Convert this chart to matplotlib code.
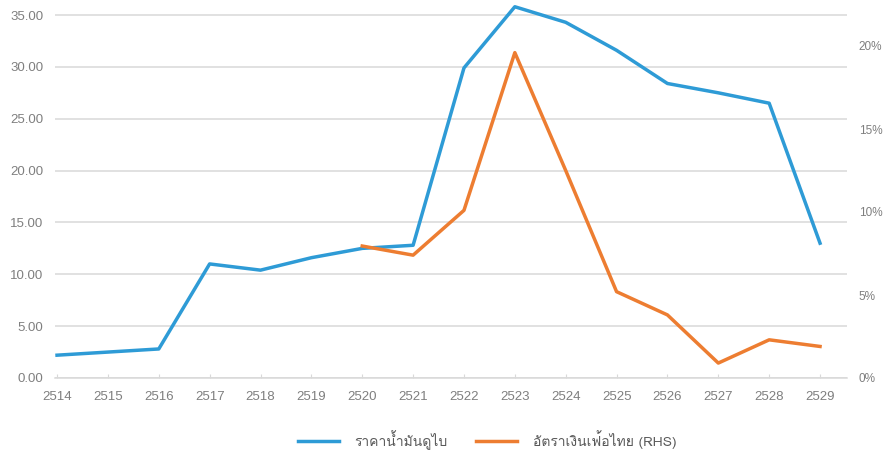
import matplotlib
matplotlib.use("Agg")
import matplotlib.pyplot as plt
from matplotlib import font_manager
from matplotlib.ft2font import FT2Font
from matplotlib.ticker import FuncFormatter

# data
years = [2514, 2515, 2516, 2517, 2518, 2519, 2520, 2521, 2522, 2523, 2524, 2525, 2526, 2527, 2528, 2529]
oil_price = [2.2, 2.5, 2.8, 11.0, 10.4, 11.6, 12.5, 12.8, 29.9, 35.8, 34.3, 31.6, 28.4, 27.5, 26.5, 13.0]
infl_years = [2520, 2521, 2522, 2523, 2524, 2525, 2526, 2527, 2528, 2529]
inflation = [0.0795, 0.074, 0.101, 0.196, 0.125, 0.052, 0.038, 0.009, 0.023, 0.019]

label_oil = "ราคาน้ำมันดูไบ"
label_infl = "อัตราเงินเฟ้อไทย (RHS)"

blue = "#2E9BD6"
orange = "#ED7D31"
grid_col = "#D9D9D9"
txt_col = "#7F7F7F"


# find a font that can draw Thai, if there is one
def find_thai_font():
    for f in font_manager.fontManager.ttflist:
        try:
            cmap = FT2Font(f.fname).get_charmap()
        except Exception:
            continue
        if 0x0E32 in cmap and 0x0E23 in cmap:
            return f.name
    return None

thai = find_thai_font()
fam = [thai, "DejaVu Sans"] if thai else ["DejaVu Sans"]

fig = plt.figure(figsize=(8.84, 4.53), dpi=100)
ax = fig.add_axes([55 / 884, 1 - 378 / 453, (847 - 55) / 884, 378 / 453])
ax2 = ax.twinx()

l1, = ax.plot(years, oil_price, color=blue, lw=2.5, solid_joinstyle="round", zorder=3)
l2, = ax2.plot(infl_years, inflation, color=orange, lw=2.5, solid_joinstyle="round", zorder=3)

ax.set_xlim(2513.96, 2529.53)
ax.set_ylim(0, 378 / 10.37)
ax2.set_ylim(0, 378 / 1660)
ax.set_yticks([0, 5, 10, 15, 20, 25, 30, 35])
ax2.set_yticks([0, 0.05, 0.10, 0.15, 0.20])
ax.set_xticks(years)
ax.yaxis.set_major_formatter(FuncFormatter(lambda v, p: f"{v:.2f}"))
ax2.yaxis.set_major_formatter(FuncFormatter(lambda v, p: f"{v * 100:.0f}%"))

ax.grid(axis="y", color=grid_col, lw=1.1)
ax.set_axisbelow(True)
for a in (ax, ax2):
    for s in a.spines.values():
        s.set_visible(False)
ax.spines["bottom"].set_visible(True)
ax.spines["bottom"].set_color(grid_col)
ax.spines["bottom"].set_linewidth(1.1)

ax.tick_params(axis="y", length=0, pad=8.5, labelsize=9.5, labelcolor=txt_col)
ax.tick_params(axis="x", length=3, direction="in", color=grid_col, pad=9, labelsize=9.5, labelcolor=txt_col)
ax2.tick_params(axis="y", length=0, pad=8.5, labelsize=8.5, labelcolor=txt_col)
for lab in ax.get_xticklabels() + ax.get_yticklabels() + ax2.get_yticklabels():
    lab.set_fontfamily("Liberation Sans")

leg = fig.legend([l1, l2], [label_oil, label_infl], loc="center", bbox_to_anchor=(0.551, 0.029),
                 ncol=2, frameon=False, handlelength=3.0, handletextpad=1.1, columnspacing=2.0,
                 prop={"family": fam, "size": 10})
for t in leg.get_texts():
    t.set_color("#595959")

fig.savefig("out.png", dpi=100)
